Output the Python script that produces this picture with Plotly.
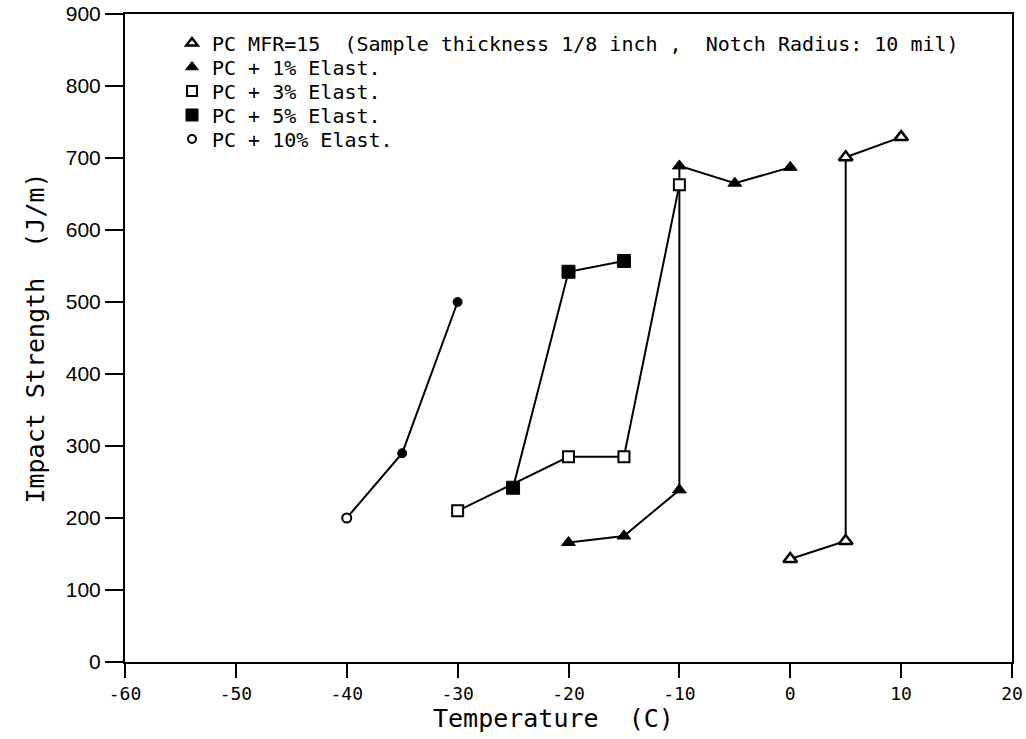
import plotly.graph_objects as go

# Notched Izod impact strength vs. test temperature for PC blends
temp_pc = [0, 5, 5, 10]
imp_pc = [143, 168, 701, 729]

temp_1 = [-20, -15, -10, -10, -5, 0]
imp_1 = [166, 175, 239, 689, 665, 687]

temp_3 = [-30, -20, -15, -10]
imp_3 = [210, 285, 285, 663]

temp_5 = [-25, -20, -15]
imp_5 = [242, 542, 557]

temp_10 = [-40, -35, -30]
imp_10 = [200, 290, 500]

names = [
    "PC MFR=15  (Sample thickness 1/8 inch ,  Notch Radius: 10 mil)",
    "PC + 1% Elast.",
    "PC + 3% Elast.",
    "PC + 5% Elast.",
    "PC + 10% Elast.",
]

x_ticks = [-60, -50, -40, -30, -20, -10, 0, 10, 20]
y_ticks = [0, 100, 200, 300, 400, 500, 600, 700, 800, 900]

MONO = "DejaVu Sans Mono"

# plot area in pixels
L, R, T, B = 125, 14, 14, 77
W, H = 1026, 739
plot_w = W - L - R
plot_h = H - T - B

styles = [
    dict(symbol="triangle-up", size=12, color="white", line=dict(color="black", width=2.5)),
    dict(symbol="triangle-up", size=12, color="black", line=dict(color="black", width=1)),
    dict(symbol="square", size=11, color="white", line=dict(color="black", width=2)),
    dict(symbol="square", size=13, color="black", line=dict(color="black", width=1)),
    dict(symbol="circle", size=9, color="black", line=dict(color="black", width=1)),
]
series = [(temp_pc, imp_pc), (temp_1, imp_1), (temp_3, imp_3), (temp_5, imp_5), (temp_10, imp_10)]

fig = go.Figure()

for (xs, ys), st in zip(series, styles):
    fig.add_trace(go.Scatter(
        x=xs, y=ys, mode="lines+markers",
        line=dict(color="black", width=2),
        marker=st, showlegend=False, hoverinfo="skip",
    ))

# lowest 10% point is drawn as an open circle
fig.add_trace(go.Scatter(
    x=temp_10[:1], y=imp_10[:1], mode="markers",
    marker=dict(symbol="circle", size=9, color="white", line=dict(color="black", width=2)),
    showlegend=False, hoverinfo="skip",
))

# legend entries show the symbol only, one legend box per row for tight spacing
legend_styles = [
    dict(symbol="triangle-up", size=10, color="white", line=dict(color="black", width=2.5)),
    dict(symbol="triangle-up", size=11, color="black", line=dict(color="black", width=1)),
    dict(symbol="square", size=10, color="white", line=dict(color="black", width=2)),
    dict(symbol="square", size=12, color="black", line=dict(color="black", width=1)),
    dict(symbol="circle", size=8, color="white", line=dict(color="black", width=2)),
]
row_y = [43, 67, 91, 115, 139]
legend_layout = {}
for i, (name, st) in enumerate(zip(names, legend_styles)):
    key = "legend" if i == 0 else f"legend{i + 1}"
    fig.add_trace(go.Scatter(
        x=[None], y=[None], mode="markers", name=name, marker=st, legend=key,
    ))
    legend_layout[key] = dict(
        x=(172 - L) / plot_w, y=(H - B - row_y[i]) / plot_h,
        xanchor="left", yanchor="middle",
        bgcolor="rgba(0,0,0,0)", borderwidth=0,
        font=dict(family=MONO, size=20, color="black"),
        itemsizing="trace",
    )

fig.update_layout(
    width=W, height=H,
    margin=dict(l=L, r=R, t=T, b=B),
    paper_bgcolor="white", plot_bgcolor="white",
    font=dict(family=MONO, color="black"),
    xaxis=dict(
        range=[-60, 20], tickvals=x_ticks, ticktext=[str(v) for v in x_ticks],
        showgrid=False, zeroline=False, automargin=False, ticklabeloverflow="allow",
        showline=True, linecolor="black", linewidth=2, mirror=True,
        ticks="outside", ticklen=14, tickwidth=2, tickcolor="black",
        tickfont=dict(family=MONO, size=18, color="black"),
    ),
    yaxis=dict(
        range=[0, 900], tickvals=y_ticks, ticktext=[str(v) for v in y_ticks],
        showgrid=False, zeroline=False, automargin=False, ticklabeloverflow="allow",
        showline=True, linecolor="black", linewidth=2, mirror=True,
        ticks="outside", ticklen=18, tickwidth=2, tickcolor="black",
        tickfont=dict(family="Liberation Sans", size=21, color="black"),
        title=dict(text="Impact Strength  (J/m)", font=dict(family=MONO, size=25, color="black"), standoff=14),
    ),
    annotations=[dict(
        text="Temperature  (C)", xref="paper", yref="paper",
        x=(553 - L) / plot_w, y=-(718 - (H - B)) / plot_h,
        xanchor="center", yanchor="middle", showarrow=False,
        font=dict(family=MONO, size=25, color="black"),
    )],
    **legend_layout,
)

fig.write_html("out.html")
